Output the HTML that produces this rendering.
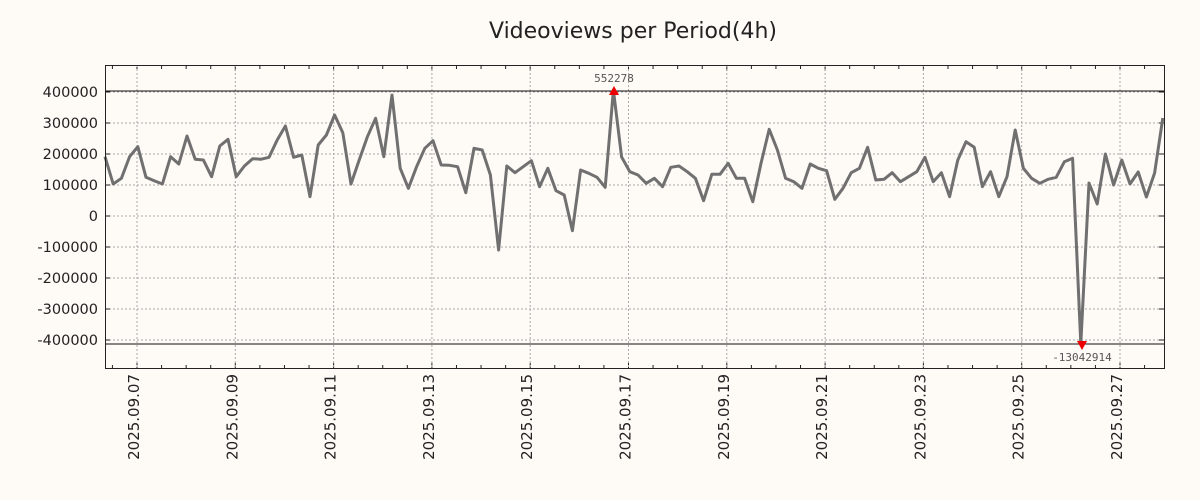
<!DOCTYPE html>
<html><head><meta charset="utf-8"><style>
body{margin:0;background:#fefaf6;}
svg{display:block;font-family:"DejaVu Sans","Liberation Sans",sans-serif;}
</style></head><body>
<svg id="s" width="1200" height="500" xmlns="http://www.w3.org/2000/svg">
<rect width="1200" height="500" fill="#fefaf6"/>
<text x="633" y="38" font-size="22" text-anchor="middle" fill="#222">Videoviews per Period(4h)</text>
<g id="grid"></g>
<g id="hl"></g>
<polyline id="pl" fill="none" stroke="#707070" stroke-width="3" stroke-linejoin="round"/>
<rect x="105.5" y="65.5" width="1059" height="303" fill="none" stroke="#222" stroke-width="1"/>
<polygon points="609,95 619,95 614,86" fill="#e00"/>
<text x="614" y="82" font-size="11" text-anchor="middle" fill="#555" font-family="DejaVu Sans Mono,monospace">552278</text>
<polygon points="1077,341 1087,341 1082,350" fill="#e00"/>
<text x="1082" y="361" font-size="11" text-anchor="middle" fill="#555" font-family="DejaVu Sans Mono,monospace">-13042914</text>
<g id="lab"></g>
</svg>
<script>
var ns="http://www.w3.org/2000/svg";
function el(t,a,p,txt){var e=document.createElementNS(ns,t);for(var k in a)e.setAttribute(k,a[k]);if(txt)e.textContent=txt;document.getElementById(p).appendChild(e);return e;}
var yl=["400000","300000","200000","100000","0","-100000","-200000","-300000","-400000"];
for(var i=0;i<9;i++){var y=92+i*31;
el("line",{x1:105,x2:1164,y1:y,y2:y,stroke:"#aaa","stroke-dasharray":"2,2"},"grid");
el("line",{x1:105,x2:110,y1:y,y2:y,stroke:"#222"},"grid");
el("line",{x1:1159,x2:1164,y1:y,y2:y,stroke:"#222"},"grid");
el("text",{x:98,y:y+5,"font-size":14.5,"text-anchor":"end",fill:"#222"},"lab",yl[i]);}
el("line",{x1:105,x2:1164,y1:91,y2:91,stroke:"#111"},"hl");
el("line",{x1:105,x2:1164,y1:344,y2:344,stroke:"#111"},"hl");
var d=49.15;
for(var k=-1;k<44;k++){var x=137+k*d/2;if(x<106||x>1163)continue;
var maj=(k%4==0);
el("line",{x1:x,x2:x,y1:65,y2:maj?71:69,stroke:"#222"},"grid");
el("line",{x1:x,x2:x,y1:369,y2:maj?363:365,stroke:"#222"},"grid");
if(maj){el("line",{x1:x,x2:x,y1:65,y2:369,stroke:"#aaa","stroke-dasharray":"2,2"},"grid");
var day=7+k/2;var t="2025.09."+(day<10?"0"+day:day);
el("text",{x:0,y:0,"font-size":15,"text-anchor":"end",fill:"#222",transform:"translate("+(x+2)+",374) rotate(-90)"},"lab",t);}}
var z1=[290,372,355,290,260,352,362,372,290,312,228,298,300,350,258,238,350,318,296,298,292,240,198,292,285,410,255,225,165,218,372,300,230,175,290,105,325,385,320,265,242,315,316,320,398,265,270,345,570,318,338,320,302,380,325,392,405,512,330,340,352,382,90,291];
var z2=[335,345,370,355,380,322,318,335,355,422,343,343,310,355,355,425,310,208,270,355,365,385,312,325,332,418,385,338,325,262,360,358,338,365,350,335,292,365,338,410,300,245,262,380,335,410,350,210,325,355,370,358,352,305,295];
var ys=[];z1.forEach(function(z){ys.push(60+z/3)});z2.forEach(function(z){ys.push(60+z/3)});
ys=ys.concat([344,183,204,154,185,160,184,172,197,173,118]);
var pts=ys.map(function(y,i){var x=105+i*8.2;if(x>1164)x=1164;return x.toFixed(1)+","+y.toFixed(1)}).join(" ");
document.getElementById("pl").setAttribute("points",pts);
</script>
</body></html>
